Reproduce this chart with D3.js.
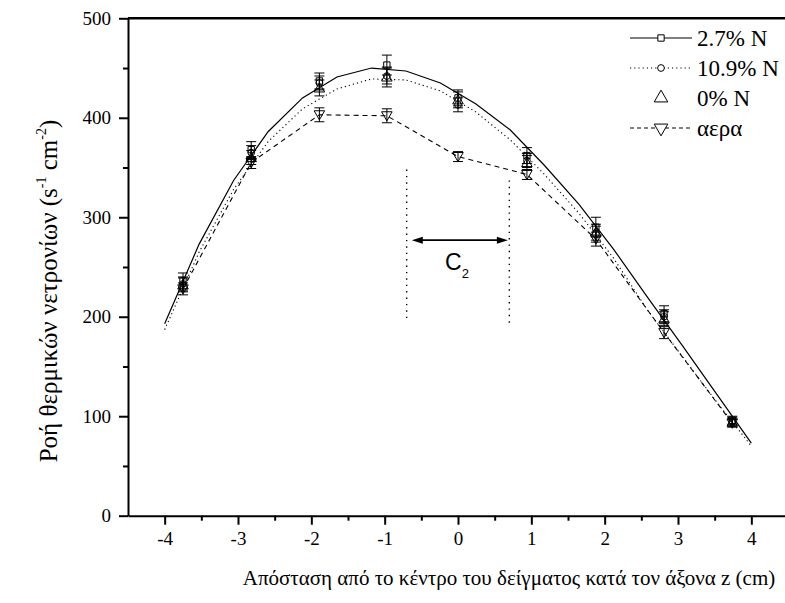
<!DOCTYPE html>
<html>
<head>
<meta charset="utf-8">
<script src="https://cdn.jsdelivr.net/npm/d3@7"></script>
<style>
  html, body { margin: 0; padding: 0; background: #fff; }
  svg { display: block; }
  .serif { font-family: "Liberation Serif", "Times New Roman", Times, "DejaVu Serif", serif; }
  .sans { font-family: "Liberation Sans", Arial, Helvetica, sans-serif; }
</style>
</head>
<body>
<svg id="chart" width="785" height="603"></svg>
<script>
// Measurement positions along the z axis (cm)
const positions = [-3.75, -2.82, -1.89, -0.97, 0, 0.94, 1.88, 2.81, 3.74];

// Measured thermal neutron flux (s^-1 cm^-2) and uncertainties
const flux27 = [236, 368, 437, 453, 420, 362, 290, 203, 96];
const err27  = [8, 8, 8, 10, 8, 8, 10, 8, 4];
const flux109 = [233, 365, 435, 442, 413, 357, 283, 200, 95];
const err109  = [7, 7, 7, 8, 7, 7, 8, 7, 4];
const flux0 = [232, 360, 430, 441, 418, 355, 285, 198, 94];
const err0  = [7, 7, 8, 10, 8, 7, 8, 7, 4];
const fluxAir = [228, 355, 403, 402, 361, 343, 278, 184, 93];
const errAir  = [6, 6, 7, 7, 5, 5, 7, 6, 4];

// Fitted profiles sampled along z
const fitZ = [-4, -3.53, -3.06, -2.59, -2.12, -1.65, -1.18, -0.71, -0.24,
              0.24, 0.71, 1.18, 1.65, 2.12, 2.59, 3.06, 3.53, 4];
const fit27 = [193, 273, 337, 386, 420, 441, 450, 447, 435,
               414, 388, 352, 313, 268, 219, 171, 122, 73];
const fit109 = [187, 265, 328, 376, 409, 429, 439, 438, 427,
                406, 378, 343, 304, 259, 206, 160, 114, 70];

// Axis ticks
const xTicks = [-4, -3, -2, -1, 0, 1, 2, 3, 4];
const xMinor = [-3.5, -2.5, -1.5, -0.5, 0.5, 1.5, 2.5, 3.5];
const yTicks = [0, 100, 200, 300, 400, 500];
const yMinor = [50, 150, 250, 350, 450];

// C2 region marker (z positions and flux extents)
const c2Bounds = [{ z: -0.7, lo: 195, hi: 348 }, { z: 0.7, lo: 191, hi: 337 }];
const c2Arrow = { from: -0.63, to: 0.68, level: 277 };

const legendLabels = ["2.7% N", "10.9% N", "0% N", "αερα"];

const svg = d3.select("#chart");
const x = d3.scaleLinear().domain([-4.5, 4.5]).range([128, 788]);
const y = d3.scaleLinear().domain([0, 500]).range([515.7, 18.3]);

// ---- axes ----
const gx = svg.append("g").attr("transform", `translate(0,${y(0)})`);
gx.call(d3.axisBottom(x).tickValues(xTicks).tickSize(9).tickSizeOuter(0).tickPadding(7)
  .tickFormat(d => String(d)));
gx.append("g").call(d3.axisBottom(x).tickValues(xMinor).tickSize(5).tickSizeOuter(0).tickFormat(""))
  .select(".domain").remove();

const gy = svg.append("g").attr("transform", `translate(${x(-4.5)},0)`);
gy.call(d3.axisLeft(y).tickValues(yTicks).tickSize(9).tickSizeOuter(0).tickPadding(8)
  .tickFormat(d => String(d)));
gy.append("g").call(d3.axisLeft(y).tickValues(yMinor).tickSize(5).tickSizeOuter(0).tickFormat(""))
  .select(".domain").remove();

[gx, gy].forEach(g => {
  g.attr("font-family", null).attr("font-size", null);
  g.selectAll("text").attr("class", "serif").style("font-size", "19px").attr("fill", "#000");
  g.selectAll("line").attr("stroke", "#000").attr("stroke-width", 2);
  g.selectAll(".domain").attr("stroke", "#000").attr("stroke-width", 2);
});

// top frame
svg.append("line")
  .attr("x1", x(-4.5)).attr("x2", x(4.5)).attr("y1", y(500)).attr("y2", y(500))
  .attr("stroke", "#000").attr("stroke-width", 2.5);

// ---- fitted curves ----
const line = d3.line().x(d => x(d[0])).y(d => y(d[1]));
svg.append("path").datum(d3.zip(fitZ, fit27)).attr("d", line)
  .attr("fill", "none").attr("stroke", "#000").attr("stroke-width", 1.2);
svg.append("path").datum(d3.zip(fitZ, fit109)).attr("d", line)
  .attr("fill", "none").attr("stroke", "#000").attr("stroke-width", 1.1)
  .attr("stroke-dasharray", "1.2,3");
svg.append("path").datum(d3.zip(positions, fluxAir)).attr("d", line)
  .attr("fill", "none").attr("stroke", "#000").attr("stroke-width", 1.1)
  .attr("stroke-dasharray", "5,4");

// ---- markers with error bars ----
const markerShapes = {
  square: d3.symbol().type(d3.symbolSquare).size(40),
  circle: d3.symbol().type(d3.symbolCircle).size(36),
  up: d3.symbol().type(d3.symbolTriangle).size(48),
  down: d3.symbol().type(d3.symbolTriangle).size(48)
};
function drawSeries(vals, errs, shape) {
  const g = svg.append("g");
  positions.forEach((z, i) => {
    const cx = x(z), v = vals[i], e = errs[i];
    g.append("line").attr("x1", cx).attr("x2", cx).attr("y1", y(v - e)).attr("y2", y(v + e))
      .attr("stroke", "#000").attr("stroke-width", 1);
    [v - e, v + e].forEach(t => g.append("line")
      .attr("x1", cx - 5).attr("x2", cx + 5).attr("y1", y(t)).attr("y2", y(t))
      .attr("stroke", "#000").attr("stroke-width", 1));
    const rot = shape === "down" ? " rotate(180)" : "";
    const dy = shape === "up" ? 1 : shape === "down" ? -1 : 0;
    g.append("path").attr("d", markerShapes[shape]())
      .attr("transform", `translate(${cx},${y(v) + dy})${rot}`)
      .attr("fill", "none").attr("stroke", "#000").attr("stroke-width", 1);
  });
}
drawSeries(flux27, err27, "square");
drawSeries(flux109, err109, "circle");
drawSeries(flux0, err0, "up");
drawSeries(fluxAir, errAir, "down");

// ---- C2 region ----
c2Bounds.forEach(b => {
  svg.append("line").attr("x1", x(b.z)).attr("x2", x(b.z)).attr("y1", y(b.hi)).attr("y2", y(b.lo))
    .attr("stroke", "#000").attr("stroke-width", 1.4).attr("stroke-dasharray", "1.4,5");
});
const ay = y(c2Arrow.level), ax1 = x(c2Arrow.from), ax2 = x(c2Arrow.to);
svg.append("line").attr("x1", ax1 + 6).attr("x2", ax2 - 6).attr("y1", ay).attr("y2", ay)
  .attr("stroke", "#000").attr("stroke-width", 1.6);
svg.append("path").attr("d", `M${ax1},${ay} L${ax1 + 11},${ay - 3.5} L${ax1 + 11},${ay + 3.5} Z`).attr("fill", "#000");
svg.append("path").attr("d", `M${ax2},${ay} L${ax2 - 11},${ay - 3.5} L${ax2 - 11},${ay + 3.5} Z`).attr("fill", "#000");
const c2 = svg.append("text").attr("class", "sans").attr("x", 445).attr("y", 270)
  .style("font-size", "23px").attr("fill", "#000");
c2.append("tspan").text("C");
c2.append("tspan").style("font-size", "13px").attr("dy", 8).text("2");

// ---- legend ----
const legY = [38, 68, 98, 128];
const legShapes = ["square", "circle", "up", "down"];
const legDash = [null, "1.2,3", "none", "4,3"];
legendLabels.forEach((lab, i) => {
  const ly = legY[i];
  if (legDash[i] !== "none") {
    svg.append("line").attr("x1", 630).attr("x2", 692).attr("y1", ly).attr("y2", ly)
      .attr("stroke", "#000").attr("stroke-width", 1.1)
      .attr("stroke-dasharray", legDash[i]);
  }
  const rot = legShapes[i] === "down" ? " rotate(180)" : "";
  const sz = legShapes[i] === "up" || legShapes[i] === "down" ? 80 : null;
  const sym = sz ? d3.symbol().type(d3.symbolTriangle).size(sz) : markerShapes[legShapes[i]];
  svg.append("path").attr("d", sym())
    .attr("transform", `translate(661,${ly})${rot}`)
    .attr("fill", "#fff").attr("stroke", "#000").attr("stroke-width", 1);
  svg.append("text").attr("class", "serif").attr("x", 697).attr("y", ly + 8)
    .style("font-size", "23px").attr("fill", "#000").text(lab);
});

// ---- axis titles ----
svg.append("text").attr("class", "serif").attr("x", 509).attr("y", 585).attr("text-anchor", "middle")
  .style("font-size", "21px").attr("fill", "#000")
  .text("Απόσταση από το κέντρο του δείγματος κατά τον άξονα z (cm)");

const yt = svg.append("text").attr("class", "serif").attr("transform", "translate(57,291) rotate(-90)")
  .attr("text-anchor", "middle").style("font-size", "25px").attr("fill", "#000");
yt.append("tspan").text("Ροή θερμικών νετρονίων (s");
yt.append("tspan").style("font-size", "14px").attr("dy", -11).text("-1");
yt.append("tspan").attr("dy", 11).text(" cm");
yt.append("tspan").style("font-size", "14px").attr("dy", -11).text("-2");
yt.append("tspan").attr("dy", 11).text(")");
</script>
</body>
</html>
